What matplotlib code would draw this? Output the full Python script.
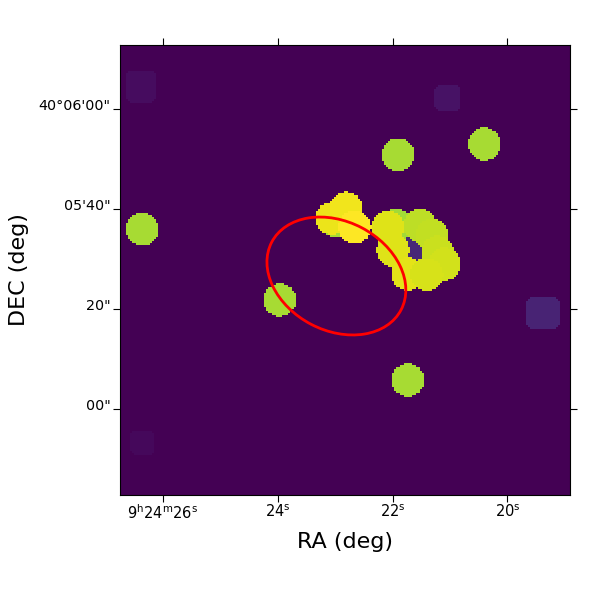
import matplotlib
matplotlib.use('Agg')
import matplotlib.pyplot as plt
import numpy as np
from matplotlib.patches import Ellipse
from matplotlib.transforms import ScaledTranslation

# sky positions: RA seconds after 9h24m, DEC arcsec after 40d05m
circle_ra = [21.94, 21.90, 20.39, 26.38, 23.97, 21.73, 22.97, 23.06, 22.81, 22.66, 21.52, 21.31,
             21.21, 21.09, 21.99, 21.73, 21.40, 22.08]
circle_dec = [36.8, 51.0, 53.1, 36.0, 21.8, 5.7, 37.6, 38.2, 40.2, 36.4, 36.8, 34.8,
              31.4, 29.0, 31.8, 27.0, 26.9, 36.4]
circle_val = [0.86, 0.87, 0.87, 0.87, 0.87, 0.87, 0.87, 0.97, 0.98, 1.0, 0.90, 0.91,
              0.92, 0.93, 0.95, 0.96, 0.94, 0.95]

square_ra = [26.40, 21.03, 19.36, 26.37, 21.66]
square_dec = [64.6, 62.4, 19.2, -6.8, 32.4]
square_half = [3.2, 2.6, 3.3, 2.4, 3.0]
square_val = [0.035, 0.05, 0.10, 0.02, 0.11]

circle_radius = 3.3
ra_ticks = [26, 24, 22, 20]
ra_labels = [r'$9^{\mathrm{h}}24^{\mathrm{m}}26^{\mathrm{s}}$', r'$24^{\mathrm{s}}$',
             r'$22^{\mathrm{s}}$', r'$20^{\mathrm{s}}$']
dec_ticks = [60, 40, 20, 0]
dec_labels = ['40°06\'00"', '05\'40"', '20"', '00"']

ellipse_ra = 22.98
ellipse_dec = 26.6
ellipse_major = 29.2
ellipse_minor = 21.8
ellipse_angle = 27.6

SEC_TO_ARCSEC = 11.48  # 15 * cos(dec)
x_lim = (26.75 * SEC_TO_ARCSEC, 18.91 * SEC_TO_ARCSEC)
y_lim = (-17.2, 72.8)


def make_image(n=225):
    xs = np.linspace(x_lim[0], x_lim[1], n)
    ys = np.linspace(y_lim[0], y_lim[1], n)
    xx, yy = np.meshgrid(xs, ys)
    img = np.zeros((n, n))

    # faint exposure patches first (corners cut a bit), sources on top
    for ra, dec, half, val in zip(square_ra, square_dec, square_half, square_val):
        dx = abs(xx - ra * SEC_TO_ARCSEC)
        dy = abs(yy - dec)
        img[(dx < half) & (dy < half) & (dx + dy < 1.7 * half)] = val
    for ra, dec, val in zip(circle_ra, circle_dec, circle_val):
        img[np.hypot(xx - ra * SEC_TO_ARCSEC, yy - dec) < circle_radius] = val
    return img


def main():
    fig = plt.figure(figsize=(6, 6), dpi=100)
    ax = fig.add_axes([0.2, 0.175, 0.75, 0.75])

    ax.imshow(make_image(), origin='lower', cmap='viridis', vmin=0, vmax=1,
              extent=[x_lim[0], x_lim[1], y_lim[0], y_lim[1]],
              interpolation='nearest', aspect='equal')
    ax.add_patch(Ellipse((ellipse_ra * SEC_TO_ARCSEC, ellipse_dec), ellipse_major, ellipse_minor,
                         angle=ellipse_angle, fill=False, edgecolor='red', linewidth=2))

    ax.set_xlim(x_lim)
    ax.set_ylim(y_lim)
    ax.set_xticks([t * SEC_TO_ARCSEC for t in ra_ticks], ra_labels)
    ax.set_yticks(dec_ticks, dec_labels)
    ax.tick_params(top=True, right=True, length=5, labelsize=10.3, pad=2)
    ax.tick_params(axis='x', labelsize=10.5, pad=1)

    # dec labels sit a little above their ticks
    shift = ScaledTranslation(0, 3 / 72, fig.dpi_scale_trans)
    for label in ax.get_yticklabels():
        label.set_transform(label.get_transform() + shift)

    ax.set_xlabel('RA (deg)', fontsize=16, labelpad=7)
    ax.set_ylabel('DEC (deg)', fontsize=16, labelpad=7)

    plt.savefig('out.png')


if __name__ == '__main__':
    main()
